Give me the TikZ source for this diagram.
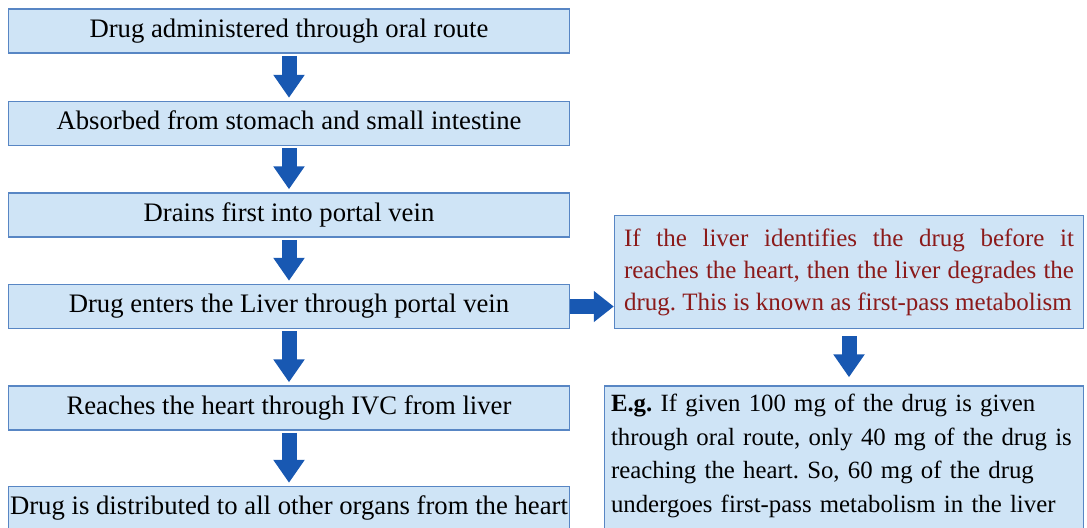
\documentclass[tikz,border=0pt]{standalone}
\usepackage{fontspec}
\setmainfont{Liberation Serif}
\frenchspacing
\usetikzlibrary{arrows.meta,positioning}
\definecolor{FPfill}{RGB}{207,228,246}
\definecolor{FPedge}{RGB}{88,134,196}
\definecolor{FParrow}{RGB}{24,88,178}
\definecolor{FPred}{RGB}{139,26,26}
\tikzset{
  stage/.style={draw=FPedge,line width=0.75pt,fill=FPfill,align=center,
                minimum width=280.5pt,minimum height=22pt,inner sep=0pt,
                font=\fontsize{13.35}{16}\selectfont,text height=9.2pt,text depth=2.9pt},
  remark/.style={draw=FPedge,line width=0.75pt,fill=FPfill,text=FPred,align=justify,
                 text width=225pt,inner xsep=4.75pt,minimum height=56.5pt,
                 font=\fontsize{12.5}{16}\selectfont},
  sample/.style={draw=FPedge,line width=0.75pt,fill=FPfill,align=left,
                 text width=233pt,inner xsep=3.25pt,inner ysep=4pt,text depth=64pt,
                 font=\fontsize{12.4}{16.8}\selectfont},
  fl/.style={-{Triangle[width=15pt,length=11.5pt]},line width=7.5pt,draw=FParrow,
             shorten <=1pt,shorten >=1.5pt}
}
\begin{document}
\begin{tikzpicture}[node distance=23.5pt]
  \useasboundingbox (0,0) rectangle (543.5pt,-263.5pt);
  \node[stage] (oral) at (144.5pt,-15.5pt) {Drug administered through oral route};
  \node[stage,below=of oral] (absorb) {Absorbed from stomach and small intestine};
  \node[stage,below=23pt of absorb] (portal) {Drains first into portal vein};
  \node[stage,below=23pt of portal] (liver) {Drug enters the Liver through portal vein};
  \node[stage,below=28pt of liver] (heart) {Reaches the heart through IVC from liver};
  \node[stage,below=27.5pt of heart] (organs) {Drug is distributed to all other organs from the heart};
  \node[remark,right=21.75pt of liver.south east,anchor=south west] (fpm)
    {\parfillskip=0pt If the liver identifies the drug before it\linebreak
     reaches the heart, then the liver degrades the\linebreak
     drug. This is known as first-pass metabolism};
  \node[sample,right=16.75pt of heart.north east,anchor=north west] (eg)
    {\textbf{E.g.} If given 100 mg of the drug is given\\
     through oral route, only 40 mg of the drug is\\
     reaching the heart. So, 60 mg of the drug\\
     undergoes first-pass metabolism in the liver};
  \draw[fl] (oral)--(absorb); \draw[fl] (absorb)--(portal); \draw[fl] (portal)--(liver);
  \draw[fl] (liver)--(heart); \draw[fl] (heart)--(organs);
  \draw[fl,shorten <=0pt,shorten >=0pt,-{Triangle[width=15pt,length=10pt]}] (liver.east)--(liver.east -| fpm.west);
  \draw[fl,shorten <=3.5pt,shorten >=4pt] (fpm.south)--(fpm.south |- eg.north);
\end{tikzpicture}
\end{document}
